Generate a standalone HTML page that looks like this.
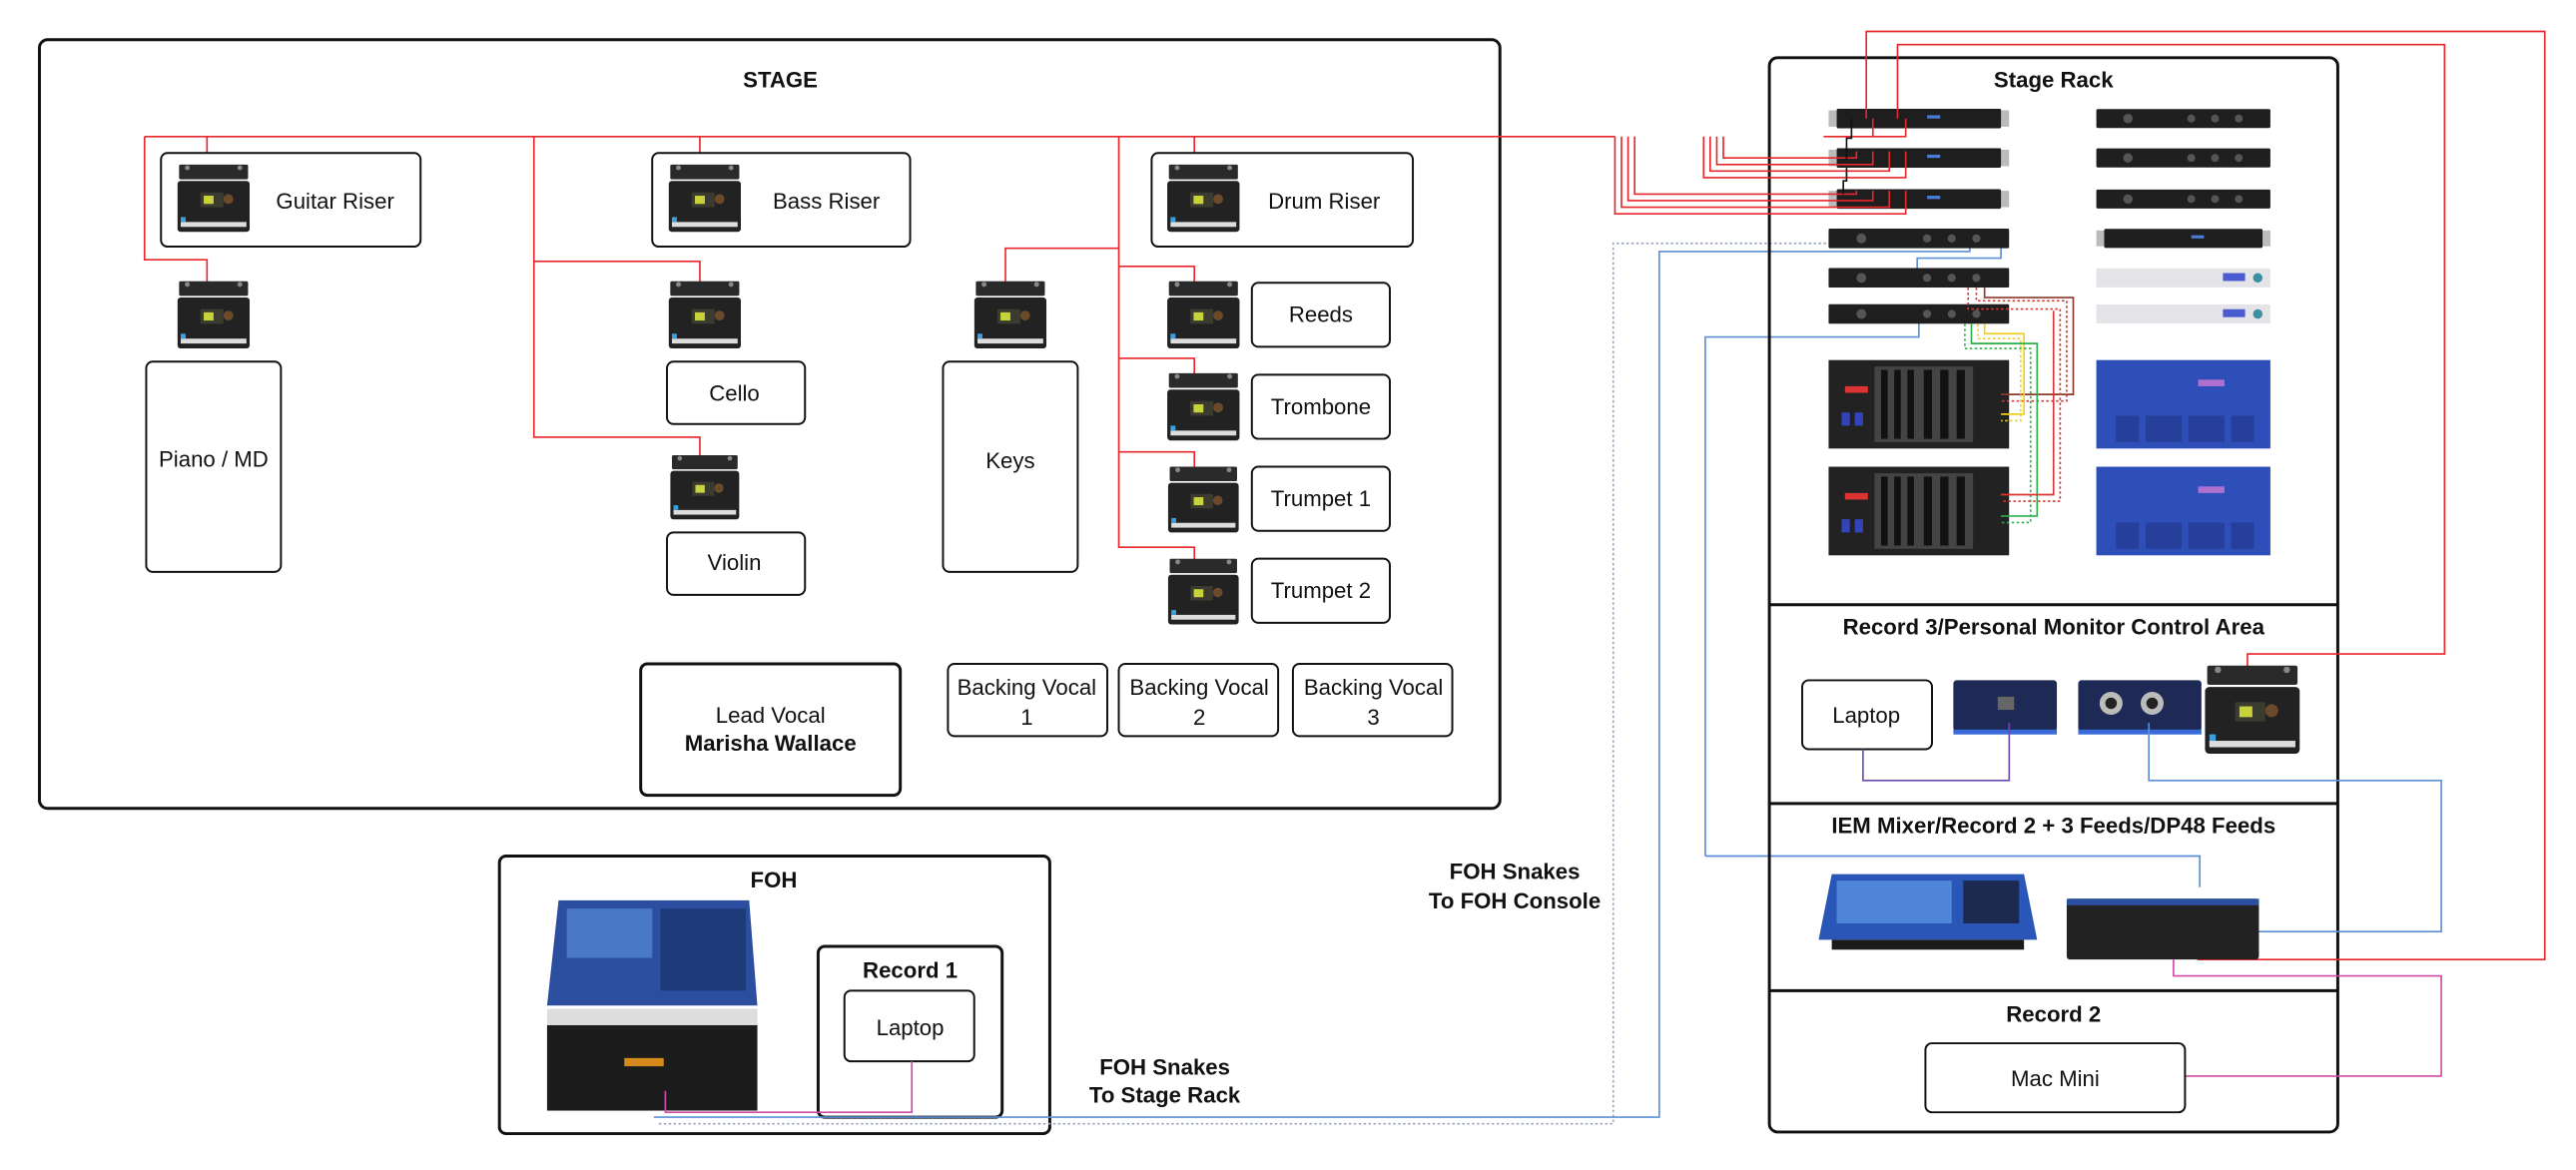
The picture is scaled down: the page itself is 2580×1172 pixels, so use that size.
<!DOCTYPE html>
<html><head><meta charset="utf-8"><style>
html,body{margin:0;padding:0;background:#fff;}
svg{display:block;}
text{font-family:"Liberation Sans",sans-serif;fill:#111;}
.t{font-size:13.5px;text-anchor:middle;}
.b{font-weight:bold;font-size:13.5px;text-anchor:middle;}
.box{fill:#fff;stroke:#111;stroke-width:1.2;}
.r{fill:none;stroke:#e8262b;stroke-width:1;}
.bl{fill:none;stroke:#5b8fd6;stroke-width:1;}
</style></head><body>
<svg width="2580" height="1172" viewBox="0 0 1568 712" xmlns="http://www.w3.org/2000/svg">
<defs>
<symbol id="pm" viewBox="0 0 44 42">
<rect x="1" y="0" width="42" height="9" rx="1" fill="#2a2a2a"/>
<circle cx="6" cy="2" r="1.5" fill="#888"/><circle cx="38" cy="2" r="1.5" fill="#888"/>
<rect x="0" y="10" width="44" height="31" rx="2" fill="#222"/>
<rect x="14" y="17" width="14" height="9" fill="#3b3b30"/>
<rect x="16" y="19" width="6" height="5" fill="#c8d23a"/>
<circle cx="31" cy="21" r="3" fill="#6a4a2a"/>
<rect x="2" y="35" width="40" height="3" fill="#ddd"/>
<rect x="2" y="32" width="3" height="3" fill="#3aa0e0"/>
</symbol>
<symbol id="ru" viewBox="0 0 110 12">
<rect x="0" y="1" width="110" height="10" fill="#bbb"/>
<rect x="5" y="0" width="100" height="12" rx="1" fill="#1e1e1e"/>
<rect x="60" y="4" width="8" height="2" fill="#4a7bd6"/>
</symbol>
<symbol id="rd" viewBox="0 0 110 12">
<rect x="0" y="0" width="110" height="12" rx="1" fill="#1f1f1f"/>
<circle cx="20" cy="6" r="3" fill="#555"/><circle cx="60" cy="6" r="2.5" fill="#555"/><circle cx="75" cy="6" r="2.5" fill="#555"/><circle cx="90" cy="6" r="2.5" fill="#555"/>
</symbol>
<symbol id="rs" viewBox="0 0 110 12">
<rect x="0" y="0" width="110" height="12" fill="#e4e4e8"/>
<rect x="80" y="3" width="14" height="5" fill="#4a5ad0"/><circle cx="102" cy="6" r="3" fill="#3a90a0"/>
</symbol>
<symbol id="sb" viewBox="0 0 110 54">
<rect x="0" y="0" width="110" height="54" fill="#222"/>
<rect x="10" y="16" width="14" height="4" fill="#d33"/>
<rect x="8" y="32" width="5" height="8" fill="#34b"/><rect x="16" y="32" width="5" height="8" fill="#34b"/>
<g fill="#444"><rect x="28" y="4" width="60" height="46"/></g>
<g fill="#111"><rect x="32" y="6" width="4" height="42"/><rect x="40" y="6" width="4" height="42"/><rect x="48" y="6" width="4" height="42"/><rect x="58" y="6" width="5" height="42"/><rect x="68" y="6" width="5" height="42"/><rect x="78" y="6" width="5" height="42"/></g>
</symbol>
<symbol id="bu" viewBox="0 0 106 54">
<rect x="0" y="0" width="106" height="54" fill="#2f4fb8"/>
<rect x="62" y="12" width="16" height="4" fill="#b070d0"/>
<g fill="#253f9a"><rect x="12" y="34" width="14" height="16"/><rect x="30" y="34" width="22" height="16"/><rect x="56" y="34" width="22" height="16"/><rect x="82" y="34" width="14" height="16"/></g>
</symbol>
</defs>

<!-- STAGE -->
<rect x="24" y="24" width="889" height="468" rx="5" fill="none" stroke="#111" stroke-width="1.8"/>
<text x="475" y="53" class="b">STAGE</text>

<!-- red wiring stage -->
<path class="r" d="M88 83 H983 M88 83 V158 H126 V175 M126 83 V100 M325 83 V266 H426 V280 M325 159 H426 V175 M426 83 V100 M681 83 V333 H727 V343 M681 162 H727 V175 M681 218 H727 V231 M681 275 H727 V288 M681 151 H612 V176 M727 83 V100"/>

<rect class="box" x="98" y="93" width="158" height="57" rx="4"/>
<use href="#pm" x="108" y="100" width="44" height="42"/>
<text x="204" y="127" class="t">Guitar Riser</text>
<use href="#pm" x="108" y="171" width="44" height="42"/>
<rect class="box" x="89" y="220" width="82" height="128" rx="4"/>
<text x="130" y="284" class="t">Piano / MD</text>

<rect class="box" x="397" y="93" width="157" height="57" rx="4"/>
<use href="#pm" x="407" y="100" width="44" height="42"/>
<text x="503" y="127" class="t">Bass Riser</text>
<use href="#pm" x="407" y="171" width="44" height="42"/>
<rect class="box" x="406" y="220" width="84" height="38" rx="4"/>
<text x="447" y="244" class="t">Cello</text>
<use href="#pm" x="407" y="277" width="44" height="40"/>
<rect class="box" x="406" y="324" width="84" height="38" rx="4"/>
<text x="447" y="347" class="t">Violin</text>

<use href="#pm" x="593" y="171" width="44" height="42"/>
<rect class="box" x="574" y="220" width="82" height="128" rx="4"/>
<text x="615" y="285" class="t">Keys</text>

<rect class="box" x="701" y="93" width="159" height="57" rx="4"/>
<use href="#pm" x="710" y="100" width="45" height="42"/>
<text x="806" y="127" class="t">Drum Riser</text>
<use href="#pm" x="710" y="171" width="45" height="42"/>
<rect class="box" x="762" y="172" width="84" height="39" rx="4"/>
<text x="804" y="196" class="t">Reeds</text>
<use href="#pm" x="710" y="227" width="45" height="42"/>
<rect class="box" x="762" y="228" width="84" height="39" rx="4"/>
<text x="804" y="252" class="t">Trombone</text>
<use href="#pm" x="710" y="284" width="45" height="41"/>
<rect class="box" x="762" y="284" width="84" height="39" rx="4"/>
<text x="804" y="308" class="t">Trumpet 1</text>
<use href="#pm" x="710" y="340" width="45" height="41"/>
<rect class="box" x="762" y="340" width="84" height="39" rx="4"/>
<text x="804" y="364" class="t">Trumpet 2</text>

<rect x="390" y="404" width="158" height="80" rx="4" fill="#fff" stroke="#111" stroke-width="1.8"/>
<text x="469" y="440" class="t">Lead Vocal</text>
<text x="469" y="457" class="b">Marisha Wallace</text>
<rect class="box" x="577" y="404" width="97" height="44" rx="4"/>
<text x="625" y="423" class="t">Backing Vocal</text><text x="625" y="441" class="t">1</text>
<rect class="box" x="681" y="404" width="97" height="44" rx="4"/>
<text x="730" y="423" class="t">Backing Vocal</text><text x="730" y="441" class="t">2</text>
<rect class="box" x="787" y="404" width="97" height="44" rx="4"/>
<text x="836" y="423" class="t">Backing Vocal</text><text x="836" y="441" class="t">3</text>

<!-- FOH -->
<rect x="304" y="521" width="335" height="169" rx="4" fill="none" stroke="#111" stroke-width="1.8"/>
<text x="471" y="540" class="b">FOH</text>
<path d="M340 548 H456 L461 612 H333 Z" fill="#2b4f9e"/>
<rect x="345" y="553" width="52" height="30" fill="#4a78c8"/>
<rect x="402" y="553" width="52" height="50" fill="#1d3a7a"/>
<rect x="333" y="614" width="128" height="10" fill="#ddd"/>
<rect x="333" y="624" width="128" height="52" fill="#1c1c1c"/>
<rect x="380" y="644" width="24" height="5" fill="#d8891c"/>
<rect class="box" x="498" y="576" width="112" height="104" rx="4" style="stroke-width:1.8"/>
<text x="554" y="595" class="b">Record 1</text>
<rect class="box" x="514" y="603" width="79" height="43" rx="4"/>
<text x="554" y="630" class="t">Laptop</text>
<path d="M555 646 V677 H405 V664" fill="none" stroke="#d04aa8" stroke-width="1"/>
<text x="709" y="654" class="b">FOH Snakes</text>
<text x="709" y="671" class="b">To Stage Rack</text>
<text x="922" y="535" class="b">FOH Snakes</text>
<text x="922" y="553" class="b">To FOH Console</text>

<!-- snakes -->
<path d="M401 684 H982 V148 H1180 V140" fill="none" stroke="#9aa6c0" stroke-width="1" stroke-dasharray="1.5 1.5"/>
<path class="bl" d="M398 680 H1010 V153 H1199 V140 M1155 153 H1155 M1218 140 V157 H1167 V165"/>
<path class="bl" d="M1038 521 V205 H1168 V191 M1038 521 H1339 V540"/>

<!-- Stage rack -->
<rect x="1077" y="35" width="346" height="654" rx="5" fill="none" stroke="#111" stroke-width="1.8"/>
<path d="M1077 368 H1423 M1077 489 H1423 M1077 603 H1423" stroke="#111" stroke-width="1.8"/>
<text x="1250" y="53" class="b">Stage Rack</text>
<text x="1250" y="386" class="b">Record 3/Personal Monitor  Control Area</text>
<text x="1250" y="507" class="b">IEM Mixer/Record 2 + 3 Feeds/DP48 Feeds</text>
<text x="1250" y="622" class="b">Record 2</text>

<use href="#ru" x="1113" y="66" width="110" height="12"/>
<use href="#ru" x="1113" y="90" width="110" height="12"/>
<use href="#ru" x="1113" y="115" width="110" height="12"/>
<use href="#rd" x="1113" y="139" width="110" height="12"/>
<use href="#rd" x="1113" y="163" width="110" height="12"/>
<use href="#rd" x="1113" y="185" width="110" height="12"/>
<use href="#rd" x="1276" y="66" width="106" height="12"/>
<use href="#rd" x="1276" y="90" width="106" height="12"/>
<use href="#rd" x="1276" y="115" width="106" height="12"/>
<use href="#ru" x="1276" y="139" width="106" height="12"/>
<use href="#rs" x="1276" y="163" width="106" height="12"/>
<use href="#rs" x="1276" y="185" width="106" height="12"/>
<use href="#sb" x="1113" y="219" width="110" height="54"/>
<use href="#sb" x="1113" y="284" width="110" height="54"/>
<use href="#bu" x="1276" y="219" width="106" height="54"/>
<use href="#bu" x="1276" y="284" width="106" height="54"/>

<!-- rack red wiring -->
<path class="r" d="M983 83 V130 H1160 V116 M987 83 V126 H1150 V116 M991 83 V122 H1140 V116 M995 83 V118 H1130 V116 M1037 83 V108 H1160 V92 M1041 83 V104 H1150 V92 M1045 83 V100 H1140 V92 M1049 83 V96 H1130 V92 M1110 83 H1160 V72 M1110 83 H1150 M1110 83 H1140 V72"/>
<path d="M1127 72 V84 H1124 V97 M1124 102 V110 H1122 V118" stroke="#111" stroke-width="1" fill="none"/>
<path class="r" d="M1136 72 V19 H1549 V584 H1338 V575 M1155 72 V27 H1488 V398 H1368 V410"/>
<!-- colored stagebox wiring -->
<g fill="none" stroke-width="1">
<path d="M1208 175 V181 H1262 V240 H1218" stroke="#8b3a2a"/>
<path d="M1203 175 V183 H1258 V244 H1218" stroke="#d33" stroke-dasharray="1.5 1.5"/>
<path d="M1198 175 V188 H1254 V305 H1218" stroke="#d33" stroke-dasharray="1.5 1.5"/>
<path d="M1208 197 V203 H1232 V252 H1218" stroke="#f0d020"/>
<path d="M1204 197 V206 H1230 V256 H1218" stroke="#f0d020" stroke-dasharray="1.5 1.5"/>
<path d="M1200 197 V209 H1240 V314 H1218" stroke="#2bb04a"/>
<path d="M1196 197 V212 H1236 V318 H1218" stroke="#2bb04a" stroke-dasharray="1.5 1.5"/>
<path d="M1250 189 V301 H1218" stroke="#d33"/>
</g>

<!-- Record 3 area -->
<rect class="box" x="1097" y="414" width="79" height="42" rx="4"/>
<text x="1136" y="440" class="t">Laptop</text>
<rect x="1189" y="414" width="63" height="31" rx="2" fill="#1e2a55"/>
<rect x="1189" y="444" width="63" height="3" fill="#3a6ad8"/>
<rect x="1216" y="424" width="10" height="8" fill="#666"/>
<rect x="1265" y="414" width="75" height="31" rx="2" fill="#1e2a55"/>
<circle cx="1285" cy="428" r="7" fill="#bbb"/><circle cx="1310" cy="428" r="7" fill="#bbb"/>
<circle cx="1285" cy="428" r="3.5" fill="#222"/><circle cx="1310" cy="428" r="3.5" fill="#222"/>
<rect x="1265" y="444" width="75" height="3" fill="#3a6ad8"/>
<use href="#pm" x="1341" y="405" width="60" height="55"/>
<path d="M1134 456 V475 H1223 V440" fill="none" stroke="#6a4ab0" stroke-width="1"/>
<path class="bl" d="M1308 440 V475 H1486 V567 H1338"/>

<!-- IEM -->
<path d="M1115 532 H1232 L1240 572 H1107 Z" fill="#2a56b8"/>
<rect x="1118" y="536" width="70" height="26" fill="#4f86d8"/>
<rect x="1195" y="536" width="34" height="26" fill="#1c2a50"/>
<rect x="1115" y="572" width="117" height="6" fill="#1b1b1b"/>
<rect x="1258" y="547" width="117" height="37" rx="2" fill="#222"/>
<rect x="1258" y="547" width="117" height="4" fill="#2a4fa0"/>
<path d="M1323 584 V594 H1486 V655 H1330" fill="none" stroke="#d04aa8" stroke-width="1"/>
<rect class="box" x="1172" y="635" width="158" height="42" rx="4"/>
<text x="1251" y="661" class="t">Mac Mini</text>
</svg>
</body></html>
